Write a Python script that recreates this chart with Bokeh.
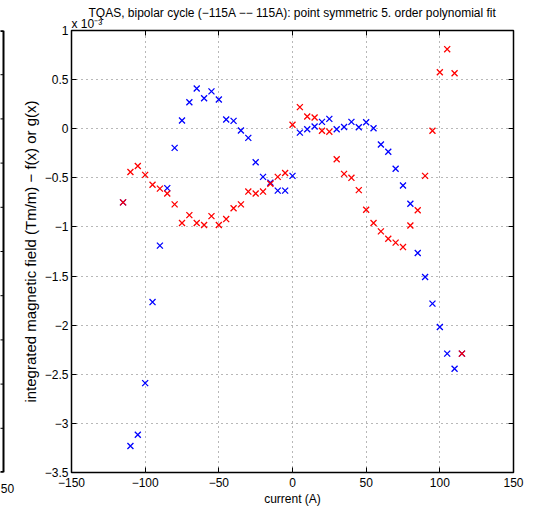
from bokeh.plotting import figure
from bokeh.models import Range1d, FixedTicker, LinearAxis, Title
from bokeh.layouts import row
from bokeh.embed import file_html
from bokeh.resources import INLINE

# ---- data ----
current = [-115, -110, -105, -100, -95, -90, -85, -80, -75, -70, -65, -60, -55, -50,
           -45, -40, -35, -30, -25, -20, -15, -10, -5, 0, 5, 10, 15, 20, 25, 30, 35,
           40, 45, 50, 55, 60, 65, 70, 75, 80, 85, 90, 95, 100, 105, 110, 115]

red_values = [-0.75, -0.44, -0.38, -0.47, -0.57, -0.61, -0.66, -0.77, -0.96, -0.88,
              -0.96, -0.98, -0.89, -0.98, -0.92, -0.81, -0.77, -0.64, -0.66, -0.64,
              -0.56, -0.49, -0.45, 0.04, 0.22, 0.125, 0.115, -0.02, -0.03, -0.31,
              -0.46, -0.50, -0.625, -0.825, -0.96, -1.045, -1.12, -1.16, -1.205,
              -0.985, -0.83, -0.48, -0.02, 0.575, 0.81, 0.565, -2.29]

blue_values = [-0.75, -3.23, -3.115, -2.59, -1.765, -1.19, -0.605, -0.195, 0.083, 0.27,
               0.41, 0.31, 0.38, 0.297, 0.094, 0.08, -0.018, -0.093, -0.341, -0.49,
               -0.55, -0.63, -0.63, -0.48, -0.04, -0.005, 0.022, 0.07, 0.10, -0.005,
               0.018, 0.07, 0.015, 0.066, 0.005, -0.161, -0.235, -0.408, -0.578,
               -0.764, -1.266, -1.51, -1.781, -2.019, -2.29, -2.443, -2.29]

x_ticks = [-150, -100, -50, 0, 50, 100, 150]
y_ticks = [-3.5, -3, -2.5, -2, -1.5, -1, -0.5, 0, 0.5, 1]
x_tick_labels = {-150: "\u2212150", -100: "\u2212100", -50: "\u221250", 0: "0",
                 50: "50", 100: "100", 150: "150"}
y_tick_labels = {-3.5: "\u22123.5", -3: "\u22123", -2.5: "\u22122.5", -2: "\u22122",
                 -1.5: "\u22121.5", -1: "\u22121", -0.5: "\u22120.5", 0: "0",
                 0.5: "0.5", 1: "1"}

title_text = "TQAS, bipolar cycle (\u2212115A \u2212\u2212 115A): point symmetric 5. order polynomial fit"
exponent_text = "x 10\u207b\u00b3"
x_label = "current (A)"
y_label = "integrated magnetic field (Tm/m) \u2212 f(x) or g(x)"

# neighbouring (cropped) panel on the left: only its right edge is visible
nb_x_start = 147.98
nb_x_edge = 150
nb_label_x = 152.69
nb_y_ticks = list(range(0, 11))
nb_edge_label = {nb_label_x: "50"}   # visible part of its cut-off "150" tick label

FONT = "Liberation Sans"
FS = "12px"

# ---- left sliver of the neighbouring panel ----
left = figure(width=18, height=512, x_range=Range1d(nb_x_start, 160.09),
              y_range=Range1d(0, 10), output_backend="svg",
              toolbar_location=None, min_border=0, min_border_left=0,
              min_border_right=0, min_border_top=30, min_border_bottom=40,
              y_axis_location=None)
left.grid.visible = False
left.outline_line_color = None
left.xaxis.ticker = FixedTicker(ticks=[nb_label_x])
left.xaxis.major_label_overrides = nb_edge_label
left.xaxis.axis_line_color = None
left.xaxis.major_tick_line_color = None
left.xaxis.minor_tick_line_color = None
left.xaxis.major_label_text_font = FONT
left.xaxis.major_label_text_font_size = FS
left.xaxis.major_label_text_color = "black"
left.xaxis.major_label_standoff = 5
left.segment(x0=[nb_x_edge], y0=[nb_y_ticks[0]], x1=[nb_x_edge], y1=[nb_y_ticks[-1]],
             line_color="black", line_width=2)
left.segment(x0=[140, 140], y0=[nb_y_ticks[0], nb_y_ticks[-1]], x1=[nb_x_edge, nb_x_edge],
             y1=[nb_y_ticks[0], nb_y_ticks[-1]], line_color="black", line_width=3)
left.segment(x0=[nb_x_edge - 2.5] * len(nb_y_ticks), y0=nb_y_ticks,
             x1=[nb_x_edge] * len(nb_y_ticks), y1=nb_y_ticks,
             line_color="black", line_width=1)

# ---- main panel ----
p = figure(width=516, height=512, x_range=Range1d(-150, 150), y_range=Range1d(-3.5, 1),
           output_backend="svg", toolbar_location=None,
           min_border_left=49, min_border_right=21, min_border_top=30,
           min_border_bottom=40)

p.scatter(current, blue_values, marker="x", size=8.5, line_color="#0000ff", line_width=1.3)
p.scatter(current, red_values, marker="x", size=8.5, line_color="#ff0000", line_width=1.3)

bottom_axis = p.xaxis[0]
left_axis = p.yaxis[0]
bottom_axis.ticker = FixedTicker(ticks=x_ticks)
left_axis.ticker = FixedTicker(ticks=y_ticks)
bottom_axis.major_label_overrides = x_tick_labels
left_axis.major_label_overrides = y_tick_labels
bottom_axis.axis_label = x_label
left_axis.axis_label = y_label

top_axis = LinearAxis(ticker=FixedTicker(ticks=x_ticks))
right_axis = LinearAxis(ticker=FixedTicker(ticks=y_ticks))
p.add_layout(top_axis, "above")
p.add_layout(right_axis, "right")

for ax in (bottom_axis, left_axis, top_axis, right_axis):
    ax.major_tick_in = 5
    ax.major_tick_out = 0
    ax.minor_tick_line_color = None
    ax.axis_line_color = None
    ax.major_tick_line_color = "black"
    ax.major_label_text_font = FONT
    ax.major_label_text_color = "black"
    ax.axis_label_text_color = "black"
    ax.axis_label_text_font = FONT
    ax.axis_label_text_font_style = "normal"

for ax in (top_axis, right_axis):
    ax.major_label_text_font_size = "0px"
    ax.major_label_standoff = 0

bottom_axis.major_label_text_font_size = FS
left_axis.major_label_text_font_size = FS
bottom_axis.axis_label_text_font_size = FS
left_axis.axis_label_text_font_size = "15px"
bottom_axis.major_label_standoff = 5
bottom_axis.axis_label_standoff = 2
left_axis.major_label_standoff = 3
left_axis.axis_label_standoff = 3

p.grid.grid_line_color = "#707070"
p.grid.grid_line_dash = "1 4"
p.grid.grid_line_width = 1
p.outline_line_color = "black"
p.outline_line_width = 1.5
p.outline_line_alpha = 1

p.add_layout(Title(text=exponent_text, align="left", standoff=0, text_font=FONT,
                   text_font_size=FS, text_font_style="normal", text_color="black"),
             "above")
p.title.text = title_text
p.title.align = "center"
p.title.offset = -4
p.title.standoff = -11
p.title.text_font = FONT
p.title.text_font_size = FS
p.title.text_font_style = "normal"
p.title.text_color = "black"

layout = row(left, p)
open("out.html", "w").write(file_html(layout, INLINE))
